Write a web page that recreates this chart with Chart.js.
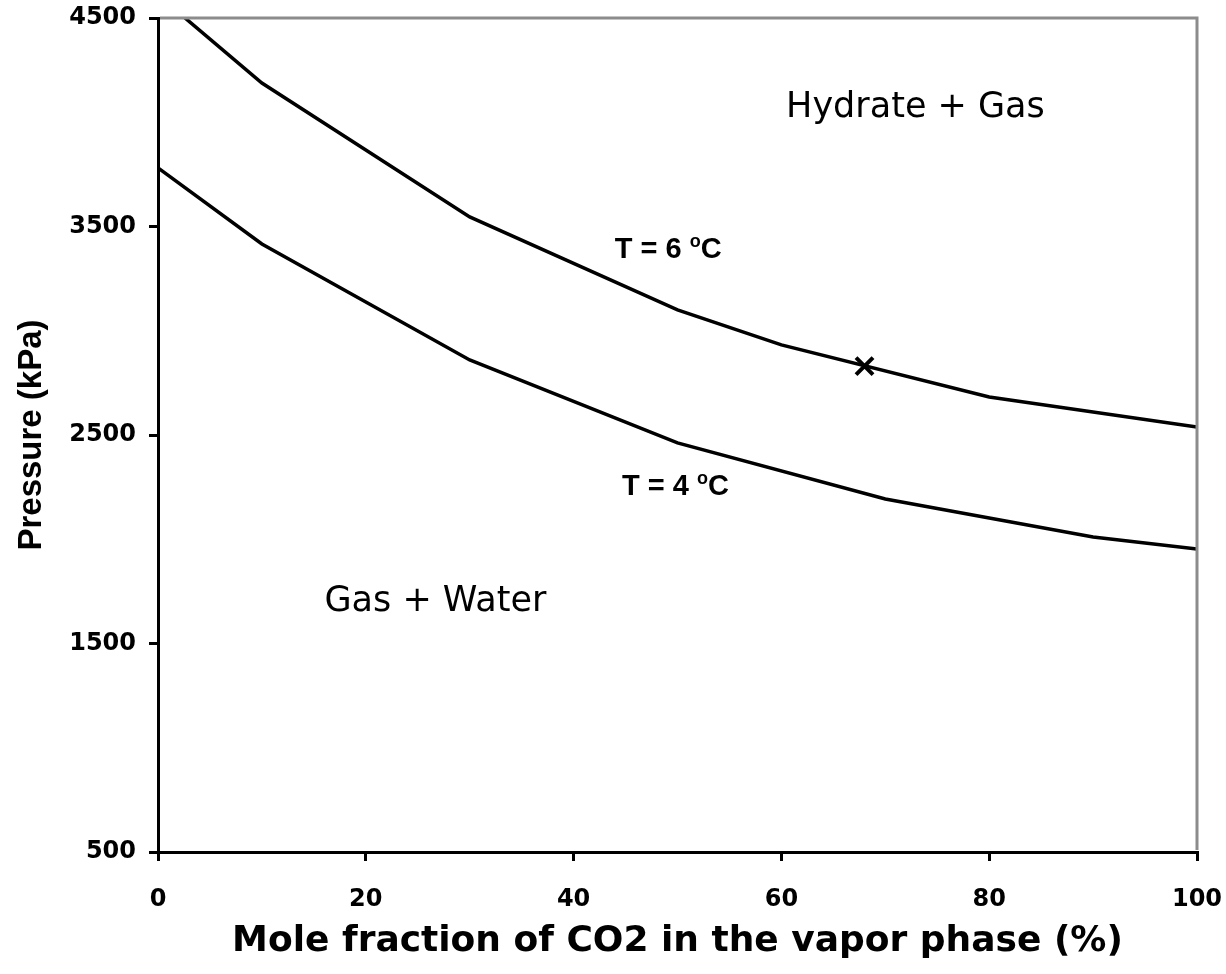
<!DOCTYPE html>
<html>
<head>
<meta charset="utf-8">
<script src="https://cdn.jsdelivr.net/npm/chart.js@4"></script>
<style>
  html, body { margin: 0; padding: 0; background: #fff; }
</style>
</head>
<body>
<canvas id="chart" width="1226" height="974"></canvas>
<script>
// --- data ---
const xT6 = [0, 10, 30, 50, 60, 80, 100];
const pT6 = [4610, 4188, 3546, 3100, 2932, 2682, 2538];
const xT4 = [0, 10, 30, 50, 70, 90, 100];
const pT4 = [3781, 3416, 2860, 2462, 2193, 2011, 1953];
const xMark = [68];
const pMark = [2830];
const xTicks = [0, 20, 40, 60, 80, 100];
const yTicks = [500, 1500, 2500, 3500, 4500];

// text notes, anchored in data units
const regionNotes = [
  { text: 'Hydrate + Gas', x: 72.9, y: 4068 },
  { text: 'Gas + Water', x: 26.7, y: 1699 }
];
const tempNotes = [
  { t: '6', x: 49.1, y: 3397 },
  { t: '4', x: 49.8, y: 2260 }
];

const toPoints = (xs, ys) => xs.map((v, i) => ({ x: v, y: ys[i] }));

function drawTemp(ctx, cx, cy, t) {
  const size = 29, smallSize = 18;
  const big = 'bold ' + size + 'px "Liberation Sans"';
  const small = 'bold ' + smallSize + 'px "Liberation Sans"';
  const head = 'T = ' + t + ' ';
  ctx.font = big;
  const wa = ctx.measureText(head).width;
  const wc = ctx.measureText('C').width;
  ctx.font = small;
  const wo = ctx.measureText('o').width;
  const x0 = cx - (wa + wo + wc) / 2;
  const cap = size * 0.716;
  const base = cy + cap / 2;
  ctx.textAlign = 'left';
  ctx.textBaseline = 'alphabetic';
  ctx.font = big;
  ctx.fillText(head, x0, base);
  ctx.font = small;
  ctx.fillText('o', x0 + wa, base - cap + smallSize * 0.52);
  ctx.font = big;
  ctx.fillText('C', x0 + wa + wo, base);
}

const overlay = {
  id: 'overlay',
  afterDatasetsDraw(chart) {
    const { ctx, chartArea: a, scales: { x, y } } = chart;
    ctx.save();
    // grey frame on top and right
    ctx.strokeStyle = '#8c8c8c';
    ctx.lineWidth = 3;
    ctx.beginPath();
    ctx.moveTo(a.left + 2, a.top);
    ctx.lineTo(a.right, a.top);
    ctx.lineTo(a.right, a.bottom - 2);
    ctx.stroke();

    ctx.fillStyle = '#000';
    ctx.font = '35px "DejaVu Sans"';
    ctx.textAlign = 'center';
    ctx.textBaseline = 'middle';
    regionNotes.forEach(n => {
      ctx.fillText(n.text, x.getPixelForValue(n.x), y.getPixelForValue(n.y));
    });
    tempNotes.forEach(n => {
      drawTemp(ctx, x.getPixelForValue(n.x), y.getPixelForValue(n.y), n.t);
    });
    ctx.restore();
  }
};

const tickFont = { family: 'DejaVu Sans', weight: 'bold', size: 24 };

new Chart(document.getElementById('chart'), {
  type: 'line',
  data: {
    datasets: [
      {
        label: 'T = 6 °C',
        data: toPoints(xT6, pT6),
        borderColor: '#000',
        borderWidth: 3.5,
        pointRadius: 0,
        tension: 0,
        clip: 0
      },
      {
        label: 'T = 4 °C',
        data: toPoints(xT4, pT4),
        borderColor: '#000',
        borderWidth: 3.5,
        pointRadius: 0,
        tension: 0,
        clip: 0
      },
      {
        label: 'X',
        data: toPoints(xMark, pMark),
        showLine: false,
        pointStyle: 'crossRot',
        pointRadius: 12,
        borderColor: '#000',
        pointBorderWidth: 4
      }
    ]
  },
  options: {
    responsive: false,
    devicePixelRatio: 1,
    animation: false,
    layout: { padding: { top: 18, right: 29, left: 0, bottom: 0 } },
    plugins: { legend: { display: false }, tooltip: { enabled: false } },
    scales: {
      x: {
        type: 'linear',
        min: 0,
        max: 100,
        afterBuildTicks: s => { s.ticks = xTicks.map(v => ({ value: v })); },
        afterFit: s => { s.height = 122; s.paddingLeft = 0; s.paddingRight = 0; },
        ticks: { font: tickFont, color: '#000', padding: 24, maxRotation: 0, callback: v => String(v) },
        grid: { drawOnChartArea: false, drawTicks: true, tickLength: 9, color: '#000', lineWidth: 3 },
        border: { color: '#000', width: 3 },
        title: {
          display: true,
          text: 'Mole fraction of CO2 in the vapor phase (%)',
          color: '#000',
          font: { family: 'DejaVu Sans', weight: 'bold', size: 36 },
          padding: { top: 0, bottom: 11 }
        }
      },
      y: {
        type: 'linear',
        min: 500,
        max: 4500,
        afterBuildTicks: s => { s.ticks = yTicks.map(v => ({ value: v })); },
        afterFit: s => { s.width = 158; s.paddingTop = 0; s.paddingBottom = 0; },
        ticks: { font: tickFont, color: '#000', padding: 13, callback: v => String(v) },
        grid: { drawOnChartArea: false, drawTicks: true, tickLength: 9, color: '#000', lineWidth: 3 },
        border: { color: '#000', width: 3 },
        title: {
          display: true,
          text: 'Pressure (kPa)',
          color: '#000',
          font: { family: 'Liberation Sans', weight: 'bold', size: 33 },
          padding: { top: 12, bottom: 0 }
        }
      }
    }
  },
  plugins: [overlay]
});
</script>
</body>
</html>
